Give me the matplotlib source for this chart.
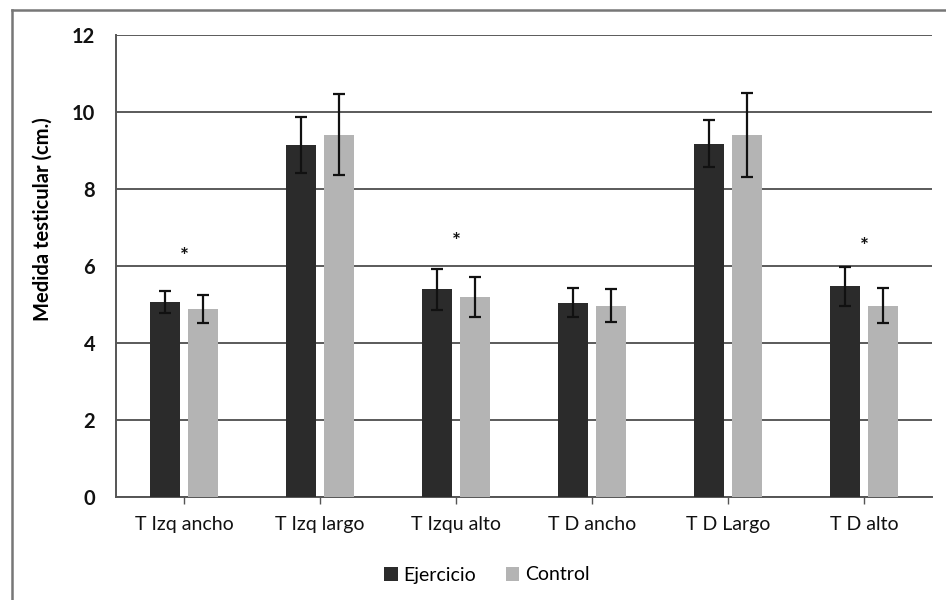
from matplotlib import pyplot as plt
from matplotlib.lines import Line2D
import numpy as np

# Categories and measured values (cm)
categories = ['T Izq ancho', 'T Izq largo', 'T Izqu alto', 'T D ancho', 'T D Largo', 'T D alto']
ejercicio = [5.07, 9.15, 5.40, 5.05, 9.18, 5.47]
ejercicio_err = [0.29, 0.73, 0.53, 0.37, 0.60, 0.50]
control = [4.88, 9.41, 5.19, 4.97, 9.41, 4.97]
control_err = [0.37, 1.05, 0.52, 0.42, 1.09, 0.45]
# Groups marked as significant, with height of the asterisk
star_groups = [0, 2, 5]
star_heights = [6.24, 6.63, 6.50]

plt.rcParams['font.family'] = ['Lato', 'DejaVu Sans']

fig = plt.figure(figsize=(9.46, 6.0), dpi=100)
ax = fig.add_axes([116 / 946, 1 - 497 / 600, (932 - 116) / 946, (497 - 35) / 600])

x = np.arange(len(categories))
width = 0.22
offset = 0.142

err_style = dict(ecolor='#111111', elinewidth=1.6, capsize=4, capthick=1.6)
ax.bar(x - offset, ejercicio, width, color='#2b2b2b', label='Ejercicio',
       yerr=ejercicio_err, error_kw=err_style, zorder=3)
ax.bar(x + offset, control, width, color='#b4b4b4', label='Control',
       yerr=control_err, error_kw=err_style, zorder=3)

# Significance markers
for g, h in zip(star_groups, star_heights):
    ax.text(x[g], h, '*', ha='center', va='center', fontsize=15, fontweight='bold', color='#111111')

ax.set_xlim(-0.5, len(categories) - 0.5)
ax.set_ylim(0, 12)
ax.set_yticks(np.arange(0, 13, 2))
ax.yaxis.grid(True, color='#5a5a5a', linewidth=1.4, zorder=0)
ax.set_axisbelow(True)

ax.set_xticks(x)
ax.set_xticklabels(categories, fontsize=14, color='#111111')
ax.tick_params(axis='x', length=5, width=1, color='#555555', pad=9)
ax.tick_params(axis='y', length=0, pad=15, labelsize=14.5, labelcolor='#111111')
for lbl in ax.get_yticklabels():
    lbl.set_fontweight('bold')

ax.set_ylabel('Medida testicular (cm.)', fontsize=14.5, fontweight='bold', labelpad=12)
ax.yaxis.set_label_coords(-0.078, 0.602)

for side in ['top', 'right']:
    ax.spines[side].set_visible(False)
ax.spines['left'].set_color('#555555')
ax.spines['left'].set_linewidth(1.4)
ax.spines['bottom'].set_color('#555555')
ax.spines['bottom'].set_linewidth(1.4)

handles, labels = ax.get_legend_handles_labels()
fig.legend(handles, labels, loc='center', bbox_to_anchor=(487 / 946, 1 - 575 / 600),
           ncol=2, frameon=False, fontsize=14, handlelength=0.7, handleheight=0.7,
           handletextpad=0.3, columnspacing=1.5)

# Outer chart frame (left and top edges visible)
fig.add_artist(Line2D([12 / 946, 12 / 946], [0, 1 - 10 / 600], transform=fig.transFigure,
                      color='#777777', linewidth=1.8))
fig.add_artist(Line2D([12 / 946, 1], [1 - 10 / 600, 1 - 10 / 600], transform=fig.transFigure,
                      color='#777777', linewidth=1.8))

fig.savefig('out.png', dpi=100, facecolor='white')
